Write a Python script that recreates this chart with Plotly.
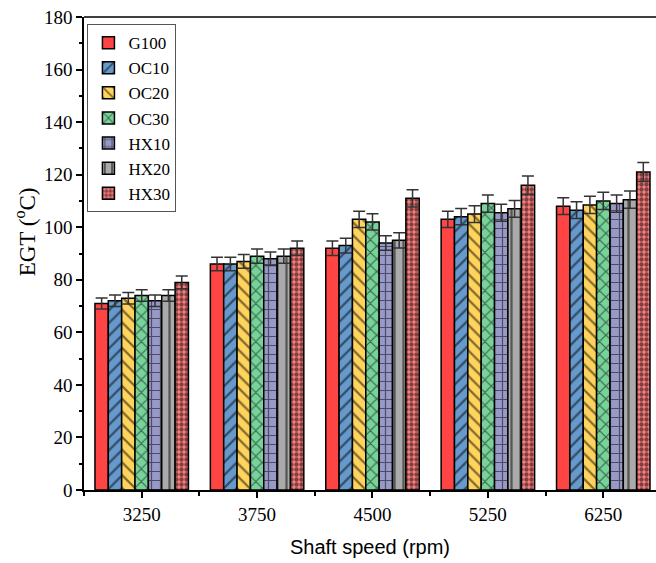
import plotly.graph_objects as go

speeds = ["3250", "3750", "4500", "5250", "6250"]
series_names = ["G100", "OC10", "OC20", "OC30", "HX10", "HX20", "HX30"]

g100 = [71, 86, 92, 103, 108]
oc10 = [72, 86, 93, 104, 106.5]
oc20 = [73, 87, 103, 105, 108.5]
oc30 = [74, 89, 102, 109, 110]
hx10 = [72, 88, 94, 105.5, 109]
hx20 = [74, 89, 95, 107, 110.5]
hx30 = [79, 92, 111, 116, 121]

err_g100 = [2.1, 2.6, 2.8, 3.1, 3.2]
err_oc10 = [2.2, 2.6, 2.8, 3.1, 3.2]
err_oc20 = [2.2, 2.6, 3.1, 3.2, 3.3]
err_oc30 = [2.2, 2.7, 3.1, 3.3, 3.3]
err_hx10 = [2.2, 2.6, 2.8, 3.2, 3.3]
err_hx20 = [2.2, 2.7, 2.9, 3.2, 3.3]
err_hx30 = [2.4, 2.8, 3.3, 3.5, 3.6]

values = [g100, oc10, oc20, oc30, hx10, hx20, hx30]
errors = [err_g100, err_oc10, err_oc20, err_oc30, err_hx10, err_hx20, err_hx30]

colors = ["#FF4444", "#6699CC", "#FFD35C", "#77D39A", "#9999C8", "#AAAAAA", "#FF8080"]
patterns = ["", "/", "\\", "x", "+", "|", "."]

xpos = list(range(len(speeds)))

fig = go.Figure()
for name, vals, errs, col, pat in zip(series_names, values, errors, colors, patterns):
    pattern = dict(shape=pat, fgcolor="black", bgcolor=col, size=9, solidity=0.25)
    if pat == ".":
        pattern = dict(shape=".", fgcolor="black", bgcolor=col, size=5, solidity=0.6)
    fig.add_trace(go.Bar(
        x=xpos, y=vals, name=name,
        marker=dict(color=col, line=dict(color="black", width=1.5), pattern=pattern),
        error_y=dict(type="data", array=errs, visible=True, color="#333333",
                     thickness=1.5, width=6),
    ))

fig.update_layout(
    width=656, height=563,
    margin=dict(l=84, r=0, t=17, b=73),
    paper_bgcolor="white", plot_bgcolor="white",
    barmode="group", bargap=0.19, bargroupgap=0,
    font=dict(family="Liberation Serif", size=17, color="black"),
    legend=dict(x=0.006, y=0.985, xanchor="left", yanchor="top",
                bordercolor="#555555", borderwidth=1, bgcolor="white",
                font=dict(family="Liberation Serif", size=17),
                tracegroupgap=0, itemwidth=30),
    showlegend=True,
)
fig.update_xaxes(
    range=[-0.5, 4.457], tickmode="array", tickvals=xpos, ticktext=speeds,
    showline=True, linecolor="black", linewidth=1.5, mirror=False,
    ticks="outside", ticklen=6, tickwidth=1.5, tickcolor="black",
    minor=dict(tickmode="array", tickvals=[-0.5, 0.5, 1.5, 2.5, 3.5],
               ticks="outside", ticklen=4, tickwidth=1.5, tickcolor="black"),
    showgrid=False, zeroline=False,
    tickfont=dict(family="Liberation Serif", size=19),
    title=dict(text="Shaft speed (rpm)", font=dict(family="Liberation Sans", size=20), standoff=16),
)
fig.update_yaxes(
    range=[0, 180], tickmode="linear", tick0=0, dtick=20,
    showline=True, linecolor="black", linewidth=1.5, mirror=False,
    ticks="outside", ticklen=6, tickwidth=1.5, tickcolor="black",
    minor=dict(dtick=10, tick0=0, ticks="outside", ticklen=3, tickwidth=1.5, tickcolor="black"),
    showgrid=False, zeroline=False,
    tickfont=dict(family="Liberation Serif", size=19),
)
fig.add_annotation(text="EGT (<sup>o</sup>C)", xref="paper", yref="paper",
                   x=-0.103, y=0.545, textangle=-90, showarrow=False,
                   xanchor="center", yanchor="middle",
                   font=dict(family="Liberation Serif", size=23, color="black"))
fig.add_shape(type="line", xref="paper", yref="paper", x0=0, x1=1, y0=1, y1=1,
              line=dict(color="black", width=1.5))

fig.write_html("out.html")
